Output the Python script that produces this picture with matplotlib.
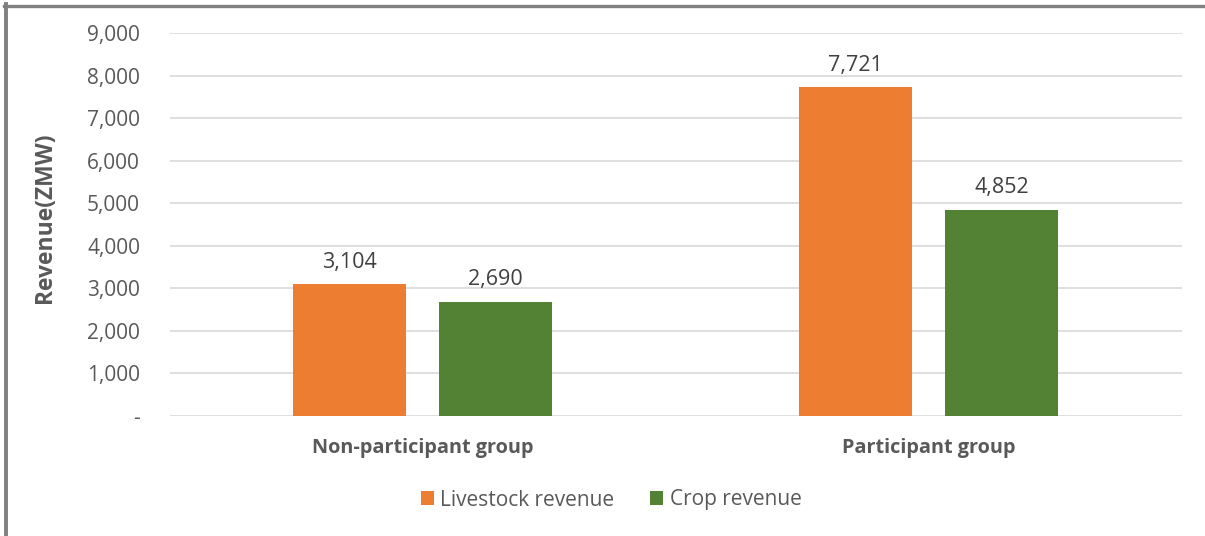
import matplotlib
matplotlib.use("Agg")
import matplotlib.pyplot as plt
from matplotlib.lines import Line2D
from matplotlib.ticker import FuncFormatter, MultipleLocator

categories = ["Non-participant group", "Participant group"]
series_names = ["Livestock revenue", "Crop revenue"]
livestock_revenue = [3104, 7721]
crop_revenue = [2690, 4852]
colors = ["#ED7D31", "#548235"]

plt.rcParams["font.family"] = ["Open Sans", "DejaVu Sans"]

W, H = 1205, 536
fig = plt.figure(figsize=(W / 100, H / 100), dpi=100)
ax = fig.add_axes([170 / W, 1 - 416 / H, (1182 - 170) / W, (416 - 33) / H])

FS = 15
bar_w = 0.223
offsets = [-0.145, 0.143]
xs = range(len(categories))
for vals, off, col, name in zip([livestock_revenue, crop_revenue], offsets, colors, series_names):
    bars = ax.bar([x + off for x in xs], vals, width=bar_w, color=col, label=name, zorder=3)
    for b, v in zip(bars, vals):
        ax.annotate(f"{v:,}", (b.get_x() + b.get_width() / 2, v),
                    xytext=(0, 8), textcoords="offset points",
                    ha="center", va="bottom", fontsize=15.5, color="#404040")

ax.set_xlim(-0.5, 1.5)
ax.set_ylim(0, 9000)
ax.yaxis.set_major_locator(MultipleLocator(1000))
ax.yaxis.set_major_formatter(FuncFormatter(lambda v, p: "-" if v == 0 else f"{int(v):,}"))
ax.grid(axis="y", color="#D9D9D9", linewidth=1.2, zorder=0)
for s in ax.spines.values():
    s.set_visible(False)
ax.tick_params(axis="y", length=0, labelsize=FS, labelcolor="#595959", pad=21.6)
ax.tick_params(axis="x", length=0, pad=16)
ax.set_xticks(list(xs))
ax.set_xticklabels(categories, fontsize=14.3, fontweight="bold", color="#595959")
ax.set_ylabel("Revenue(ZMW)", fontsize=16.5, fontweight="bold", color="#595959")
ax.yaxis.set_label_coords((57 - 170) / (1182 - 170), 0.5 + 7 / 383)

fig.legend(loc="center", bbox_to_anchor=(611 / W, 1 - 500 / H), ncol=2, frameon=False,
           fontsize=FS, labelcolor="#595959", handlelength=0.65, handleheight=0.65,
           handletextpad=0.3, columnspacing=1.7)

# outer frame (top and left edges)
fig.add_artist(Line2D([4 / W, 1], [1 - 5.5 / H, 1 - 5.5 / H], color="#808080", linewidth=2.4,
                      transform=fig.transFigure))
fig.add_artist(Line2D([6 / W, 6 / W], [0, 1 - 4 / H], color="#808080", linewidth=2.8,
                      transform=fig.transFigure))

fig.savefig("out.png", dpi=100)
